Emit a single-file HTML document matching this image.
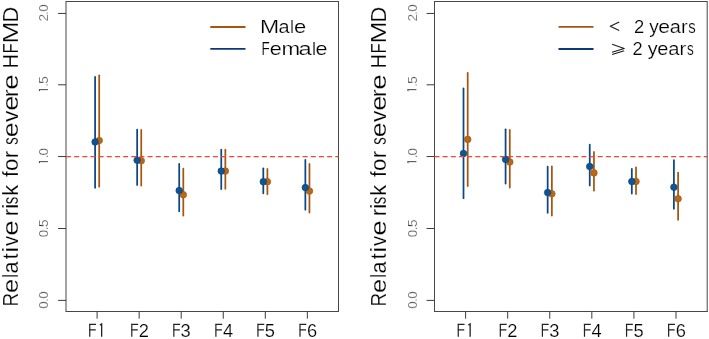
<!DOCTYPE html>
<html><head><meta charset="utf-8"><style>
html,body{margin:0;padding:0;background:#fff;}
svg{display:block;will-change:transform;}
text{font-family:"Liberation Sans",sans-serif;fill:#000;stroke:#fff;stroke-width:0.2px;}
.yl{font-size:13.6px;stroke-width:0.35px;fill:#222;}
.xl{font-size:18.3px;}
.lg{font-size:18.2px;}
.yt{font-size:22.5px;}
</style></head><body>
<svg width="709" height="339" viewBox="0 0 709 339">
<rect width="709" height="339" fill="#fff"/>
<path d="M66.0,1.5 H338.5 M338.5,1.0 V312.0 M339.0,311.5 H66.0 M66.0,312.0 V1.0" fill="none" stroke="#474747" stroke-width="1"/>
<line x1="58.1" y1="300.40" x2="66.0" y2="300.40" stroke="#3a3a3a" stroke-width="1"/>
<text transform="translate(48.20,305.05) rotate(-90)" text-anchor="middle" class="yl">0</text>
<text transform="translate(48.20,300.00) rotate(-90)" text-anchor="middle" class="yl">.</text>
<text transform="translate(48.20,295.05) rotate(-90)" text-anchor="middle" class="yl">0</text>
<line x1="58.1" y1="228.50" x2="66.0" y2="228.50" stroke="#3a3a3a" stroke-width="1"/>
<text transform="translate(48.20,233.35) rotate(-90)" text-anchor="middle" class="yl">0</text>
<text transform="translate(48.20,228.30) rotate(-90)" text-anchor="middle" class="yl">.</text>
<text transform="translate(48.20,223.20) rotate(-90)" text-anchor="middle" class="yl">5</text>
<line x1="58.1" y1="156.55" x2="66.0" y2="156.55" stroke="#3a3a3a" stroke-width="1"/>
<path d="M47.90,161.65 H39.10 L39.70,163.15" fill="none" stroke="#3a3a3a" stroke-width="0.95" stroke-linejoin="round"/>
<text transform="translate(48.20,156.45) rotate(-90)" text-anchor="middle" class="yl">.</text>
<text transform="translate(48.20,151.65) rotate(-90)" text-anchor="middle" class="yl">0</text>
<line x1="58.1" y1="84.80" x2="66.0" y2="84.80" stroke="#3a3a3a" stroke-width="1"/>
<path d="M47.90,89.65 H39.10 L39.70,91.15" fill="none" stroke="#3a3a3a" stroke-width="0.95" stroke-linejoin="round"/>
<text transform="translate(48.20,84.75) rotate(-90)" text-anchor="middle" class="yl">.</text>
<text transform="translate(48.20,80.05) rotate(-90)" text-anchor="middle" class="yl">5</text>
<line x1="58.1" y1="13.45" x2="66.0" y2="13.45" stroke="#3a3a3a" stroke-width="1"/>
<text transform="translate(48.20,17.60) rotate(-90)" text-anchor="middle" class="yl">2</text>
<text transform="translate(48.20,13.00) rotate(-90)" text-anchor="middle" class="yl">.</text>
<text transform="translate(48.20,8.05) rotate(-90)" text-anchor="middle" class="yl">0</text>
<line x1="97.10" y1="311.5" x2="97.10" y2="318.7" stroke="#3a3a3a" stroke-width="1"/>
<path d="M89.75,336.8 V324.3 M89.05,324.3 H96.05 M89.05,329.85 H95.75" fill="none" stroke="#222" stroke-width="1.2"/>
<path d="M101.65,336.8 V324.0 L99.90,325.1" fill="none" stroke="#222" stroke-width="1.3" stroke-linejoin="miter"/>
<line x1="139.15" y1="311.5" x2="139.15" y2="318.7" stroke="#3a3a3a" stroke-width="1"/>
<path d="M131.80,336.8 V324.3 M131.10,324.3 H138.10 M131.10,329.85 H137.80" fill="none" stroke="#222" stroke-width="1.2"/>
<text x="143.85" y="336.8" text-anchor="middle" class="xl">2</text>
<line x1="181.20" y1="311.5" x2="181.20" y2="318.7" stroke="#3a3a3a" stroke-width="1"/>
<path d="M173.85,336.8 V324.3 M173.15,324.3 H180.15 M173.15,329.85 H179.85" fill="none" stroke="#222" stroke-width="1.2"/>
<text x="185.70" y="336.8" text-anchor="middle" class="xl">3</text>
<line x1="223.25" y1="311.5" x2="223.25" y2="318.7" stroke="#3a3a3a" stroke-width="1"/>
<path d="M215.90,336.8 V324.3 M215.20,324.3 H222.20 M215.20,329.85 H221.90" fill="none" stroke="#222" stroke-width="1.2"/>
<text x="228.00" y="336.8" text-anchor="middle" class="xl">4</text>
<line x1="265.30" y1="311.5" x2="265.30" y2="318.7" stroke="#3a3a3a" stroke-width="1"/>
<path d="M257.95,336.8 V324.3 M257.25,324.3 H264.25 M257.25,329.85 H263.95" fill="none" stroke="#222" stroke-width="1.2"/>
<text x="269.85" y="336.8" text-anchor="middle" class="xl">5</text>
<line x1="307.35" y1="311.5" x2="307.35" y2="318.7" stroke="#3a3a3a" stroke-width="1"/>
<path d="M300.00,336.8 V324.3 M299.30,324.3 H306.30 M299.30,329.85 H306.00" fill="none" stroke="#222" stroke-width="1.2"/>
<text x="312.10" y="336.8" text-anchor="middle" class="xl">6</text>
<line x1="99.20" y1="75.25" x2="99.20" y2="186.65" stroke="#a6560f" stroke-width="1.75" stroke-linecap="round"/>
<line x1="95.10" y1="76.75" x2="95.10" y2="187.75" stroke="#0c4683" stroke-width="1.75" stroke-linecap="round"/>
<line x1="141.25" y1="129.95" x2="141.25" y2="185.55" stroke="#a6560f" stroke-width="1.75" stroke-linecap="round"/>
<line x1="137.15" y1="129.70" x2="137.15" y2="184.90" stroke="#0c4683" stroke-width="1.75" stroke-linecap="round"/>
<line x1="183.30" y1="168.65" x2="183.30" y2="215.55" stroke="#a6560f" stroke-width="1.75" stroke-linecap="round"/>
<line x1="179.20" y1="163.95" x2="179.20" y2="211.35" stroke="#0c4683" stroke-width="1.75" stroke-linecap="round"/>
<line x1="225.35" y1="149.70" x2="225.35" y2="188.75" stroke="#a6560f" stroke-width="1.75" stroke-linecap="round"/>
<line x1="221.25" y1="149.70" x2="221.25" y2="189.05" stroke="#0c4683" stroke-width="1.75" stroke-linecap="round"/>
<line x1="267.40" y1="168.95" x2="267.40" y2="194.15" stroke="#a6560f" stroke-width="1.75" stroke-linecap="round"/>
<line x1="263.30" y1="168.35" x2="263.30" y2="193.35" stroke="#0c4683" stroke-width="1.75" stroke-linecap="round"/>
<line x1="309.45" y1="163.95" x2="309.45" y2="212.55" stroke="#a6560f" stroke-width="1.75" stroke-linecap="round"/>
<line x1="305.35" y1="159.95" x2="305.35" y2="209.65" stroke="#0c4683" stroke-width="1.75" stroke-linecap="round"/>
<circle cx="99.20" cy="140.5" r="3.3" fill="#bb6816" stroke="#a6560f" stroke-width="0.7"/>
<circle cx="95.10" cy="142.0" r="3.3" fill="#0e5592" stroke="#0c4683" stroke-width="0.7"/>
<circle cx="141.25" cy="160.7" r="3.3" fill="#bb6816" stroke="#a6560f" stroke-width="0.7"/>
<circle cx="137.15" cy="160.2" r="3.3" fill="#0e5592" stroke="#0c4683" stroke-width="0.7"/>
<circle cx="183.30" cy="194.7" r="3.3" fill="#bb6816" stroke="#a6560f" stroke-width="0.7"/>
<circle cx="179.20" cy="190.6" r="3.3" fill="#0e5592" stroke="#0c4683" stroke-width="0.7"/>
<circle cx="225.35" cy="171.1" r="3.3" fill="#bb6816" stroke="#a6560f" stroke-width="0.7"/>
<circle cx="221.25" cy="171.1" r="3.3" fill="#0e5592" stroke="#0c4683" stroke-width="0.7"/>
<circle cx="267.40" cy="181.7" r="3.3" fill="#bb6816" stroke="#a6560f" stroke-width="0.7"/>
<circle cx="263.30" cy="181.7" r="3.3" fill="#0e5592" stroke="#0c4683" stroke-width="0.7"/>
<circle cx="309.45" cy="191.1" r="3.3" fill="#bb6816" stroke="#a6560f" stroke-width="0.7"/>
<circle cx="305.35" cy="187.6" r="3.3" fill="#0e5592" stroke="#0c4683" stroke-width="0.7"/>
<line x1="66.0" y1="156.5" x2="338.5" y2="156.5" stroke="#fa4430" stroke-width="1.25" stroke-dasharray="5.0 3.16"/>
<text transform="translate(17.70,304.90) rotate(-90) scale(0.8458,1) translate(-1.846,0)" class="yt">R</text>
<text transform="translate(17.70,291.90) rotate(-90) scale(1.1271,1) translate(-0.956,0)" class="yt">e</text>
<text transform="translate(17.70,276.60) rotate(-90) scale(0.7080,1) translate(-1.516,0)" class="yt">l</text>
<text transform="translate(17.70,272.60) rotate(-90) scale(0.9691,1) translate(-0.956,0)" class="yt">a</text>
<text transform="translate(17.70,259.00) rotate(-90) scale(0.9224,1) translate(-0.341,0)" class="yt">t</text>
<text transform="translate(17.70,250.80) rotate(-90) scale(1.2136,1) translate(-1.505,0)" class="yt">i</text>
<text transform="translate(17.70,246.00) rotate(-90) scale(0.9012,1) translate(-0.077,0)" class="yt">v</text>
<text transform="translate(17.70,234.60) rotate(-90) scale(1.2313,1) translate(-0.956,0)" class="yt">e</text>
<text transform="translate(17.70,214.50) rotate(-90) scale(0.9422,1) translate(-1.494,0)" class="yt">r</text>
<text transform="translate(17.70,207.40) rotate(-90) scale(1.2136,1) translate(-1.505,0)" class="yt">i</text>
<text transform="translate(17.70,203.90) rotate(-90) scale(0.6625,1) translate(-0.626,0)" class="yt">s</text>
<text transform="translate(17.70,194.30) rotate(-90) scale(0.9727,1) translate(-1.516,0)" class="yt">k</text>
<text transform="translate(17.70,176.50) rotate(-90) scale(0.8884,1) translate(-0.319,0)" class="yt">f</text>
<text transform="translate(17.70,170.00) rotate(-90) scale(0.9883,1) translate(-0.945,0)" class="yt">o</text>
<text transform="translate(17.70,156.60) rotate(-90) scale(0.9422,1) translate(-1.494,0)" class="yt">r</text>
<text transform="translate(17.70,144.30) rotate(-90) scale(0.6625,1) translate(-0.626,0)" class="yt">s</text>
<text transform="translate(17.70,136.00) rotate(-90) scale(1.1934,1) translate(-0.956,0)" class="yt">e</text>
<text transform="translate(17.70,121.90) rotate(-90) scale(1.0184,1) translate(-0.077,0)" class="yt">v</text>
<text transform="translate(17.70,109.50) rotate(-90) scale(1.2124,1) translate(-0.956,0)" class="yt">e</text>
<text transform="translate(17.70,95.60) rotate(-90) scale(1.0667,1) translate(-1.494,0)" class="yt">r</text>
<text transform="translate(17.70,88.50) rotate(-90) scale(1.2313,1) translate(-0.956,0)" class="yt">e</text>
<text transform="translate(17.70,66.90) rotate(-90) scale(0.8832,1) translate(-1.846,0)" class="yt">H</text>
<text transform="translate(17.70,52.00) rotate(-90) scale(0.7456,1) translate(-1.846,0)" class="yt">F</text>
<text transform="translate(17.70,41.40) rotate(-90) scale(1.1760,1) translate(-1.846,0)" class="yt">M</text>
<text transform="translate(17.70,20.70) rotate(-90) scale(0.9680,1) translate(-1.846,0)" class="yt">D</text>
<path d="M434.5,1.5 H707.2 M707.2,1.0 V312.0 M707.7,311.5 H434.5 M434.5,312.0 V1.0" fill="none" stroke="#474747" stroke-width="1"/>
<line x1="426.6" y1="300.40" x2="434.5" y2="300.40" stroke="#3a3a3a" stroke-width="1"/>
<text transform="translate(416.70,305.05) rotate(-90)" text-anchor="middle" class="yl">0</text>
<text transform="translate(416.70,300.00) rotate(-90)" text-anchor="middle" class="yl">.</text>
<text transform="translate(416.70,295.05) rotate(-90)" text-anchor="middle" class="yl">0</text>
<line x1="426.6" y1="228.50" x2="434.5" y2="228.50" stroke="#3a3a3a" stroke-width="1"/>
<text transform="translate(416.70,233.35) rotate(-90)" text-anchor="middle" class="yl">0</text>
<text transform="translate(416.70,228.30) rotate(-90)" text-anchor="middle" class="yl">.</text>
<text transform="translate(416.70,223.20) rotate(-90)" text-anchor="middle" class="yl">5</text>
<line x1="426.6" y1="156.55" x2="434.5" y2="156.55" stroke="#3a3a3a" stroke-width="1"/>
<path d="M416.40,161.65 H407.60 L408.20,163.15" fill="none" stroke="#3a3a3a" stroke-width="0.95" stroke-linejoin="round"/>
<text transform="translate(416.70,156.45) rotate(-90)" text-anchor="middle" class="yl">.</text>
<text transform="translate(416.70,151.65) rotate(-90)" text-anchor="middle" class="yl">0</text>
<line x1="426.6" y1="84.80" x2="434.5" y2="84.80" stroke="#3a3a3a" stroke-width="1"/>
<path d="M416.40,89.65 H407.60 L408.20,91.15" fill="none" stroke="#3a3a3a" stroke-width="0.95" stroke-linejoin="round"/>
<text transform="translate(416.70,84.75) rotate(-90)" text-anchor="middle" class="yl">.</text>
<text transform="translate(416.70,80.05) rotate(-90)" text-anchor="middle" class="yl">5</text>
<line x1="426.6" y1="13.45" x2="434.5" y2="13.45" stroke="#3a3a3a" stroke-width="1"/>
<text transform="translate(416.70,17.60) rotate(-90)" text-anchor="middle" class="yl">2</text>
<text transform="translate(416.70,13.00) rotate(-90)" text-anchor="middle" class="yl">.</text>
<text transform="translate(416.70,8.05) rotate(-90)" text-anchor="middle" class="yl">0</text>
<line x1="465.60" y1="311.5" x2="465.60" y2="318.7" stroke="#3a3a3a" stroke-width="1"/>
<path d="M458.25,336.8 V324.3 M457.55,324.3 H464.55 M457.55,329.85 H464.25" fill="none" stroke="#222" stroke-width="1.2"/>
<path d="M470.15,336.8 V324.0 L468.40,325.1" fill="none" stroke="#222" stroke-width="1.3" stroke-linejoin="miter"/>
<line x1="507.68" y1="311.5" x2="507.68" y2="318.7" stroke="#3a3a3a" stroke-width="1"/>
<path d="M500.33,336.8 V324.3 M499.63,324.3 H506.63 M499.63,329.85 H506.33" fill="none" stroke="#222" stroke-width="1.2"/>
<text x="512.38" y="336.8" text-anchor="middle" class="xl">2</text>
<line x1="549.76" y1="311.5" x2="549.76" y2="318.7" stroke="#3a3a3a" stroke-width="1"/>
<path d="M542.41,336.8 V324.3 M541.71,324.3 H548.71 M541.71,329.85 H548.41" fill="none" stroke="#222" stroke-width="1.2"/>
<text x="554.26" y="336.8" text-anchor="middle" class="xl">3</text>
<line x1="591.84" y1="311.5" x2="591.84" y2="318.7" stroke="#3a3a3a" stroke-width="1"/>
<path d="M584.49,336.8 V324.3 M583.79,324.3 H590.79 M583.79,329.85 H590.49" fill="none" stroke="#222" stroke-width="1.2"/>
<text x="596.59" y="336.8" text-anchor="middle" class="xl">4</text>
<line x1="633.92" y1="311.5" x2="633.92" y2="318.7" stroke="#3a3a3a" stroke-width="1"/>
<path d="M626.57,336.8 V324.3 M625.87,324.3 H632.87 M625.87,329.85 H632.57" fill="none" stroke="#222" stroke-width="1.2"/>
<text x="638.47" y="336.8" text-anchor="middle" class="xl">5</text>
<line x1="676.00" y1="311.5" x2="676.00" y2="318.7" stroke="#3a3a3a" stroke-width="1"/>
<path d="M668.65,336.8 V324.3 M667.95,324.3 H674.95 M667.95,329.85 H674.65" fill="none" stroke="#222" stroke-width="1.2"/>
<text x="680.75" y="336.8" text-anchor="middle" class="xl">6</text>
<line x1="467.70" y1="72.80" x2="467.70" y2="186.05" stroke="#a6560f" stroke-width="1.75" stroke-linecap="round"/>
<line x1="463.50" y1="88.45" x2="463.50" y2="198.15" stroke="#0c4683" stroke-width="1.75" stroke-linecap="round"/>
<line x1="509.78" y1="129.95" x2="509.78" y2="187.55" stroke="#a6560f" stroke-width="1.75" stroke-linecap="round"/>
<line x1="505.58" y1="129.25" x2="505.58" y2="183.55" stroke="#0c4683" stroke-width="1.75" stroke-linecap="round"/>
<line x1="551.86" y1="166.45" x2="551.86" y2="215.55" stroke="#a6560f" stroke-width="1.75" stroke-linecap="round"/>
<line x1="547.66" y1="166.65" x2="547.66" y2="212.85" stroke="#0c4683" stroke-width="1.75" stroke-linecap="round"/>
<line x1="593.94" y1="151.95" x2="593.94" y2="190.65" stroke="#a6560f" stroke-width="1.75" stroke-linecap="round"/>
<line x1="589.74" y1="144.70" x2="589.74" y2="185.45" stroke="#0c4683" stroke-width="1.75" stroke-linecap="round"/>
<line x1="636.02" y1="167.25" x2="636.02" y2="194.05" stroke="#a6560f" stroke-width="1.75" stroke-linecap="round"/>
<line x1="631.82" y1="168.95" x2="631.82" y2="193.55" stroke="#0c4683" stroke-width="1.75" stroke-linecap="round"/>
<line x1="678.10" y1="172.55" x2="678.10" y2="219.85" stroke="#a6560f" stroke-width="1.75" stroke-linecap="round"/>
<line x1="673.90" y1="160.15" x2="673.90" y2="208.75" stroke="#0c4683" stroke-width="1.75" stroke-linecap="round"/>
<circle cx="467.70" cy="139.4" r="3.3" fill="#bb6816" stroke="#a6560f" stroke-width="0.7"/>
<circle cx="463.50" cy="153.5" r="3.3" fill="#0e5592" stroke="#0c4683" stroke-width="0.7"/>
<circle cx="509.78" cy="162.0" r="3.3" fill="#bb6816" stroke="#a6560f" stroke-width="0.7"/>
<circle cx="505.58" cy="159.4" r="3.3" fill="#0e5592" stroke="#0c4683" stroke-width="0.7"/>
<circle cx="551.86" cy="193.8" r="3.3" fill="#bb6816" stroke="#a6560f" stroke-width="0.7"/>
<circle cx="547.66" cy="192.6" r="3.3" fill="#0e5592" stroke="#0c4683" stroke-width="0.7"/>
<circle cx="593.94" cy="172.9" r="3.3" fill="#bb6816" stroke="#a6560f" stroke-width="0.7"/>
<circle cx="589.74" cy="166.5" r="3.3" fill="#0e5592" stroke="#0c4683" stroke-width="0.7"/>
<circle cx="636.02" cy="181.5" r="3.3" fill="#bb6816" stroke="#a6560f" stroke-width="0.7"/>
<circle cx="631.82" cy="181.5" r="3.3" fill="#0e5592" stroke="#0c4683" stroke-width="0.7"/>
<circle cx="678.10" cy="198.7" r="3.3" fill="#bb6816" stroke="#a6560f" stroke-width="0.7"/>
<circle cx="673.90" cy="187.2" r="3.3" fill="#0e5592" stroke="#0c4683" stroke-width="0.7"/>
<line x1="434.5" y1="156.5" x2="707.2" y2="156.5" stroke="#fa4430" stroke-width="1.25" stroke-dasharray="5.0 3.16"/>
<text transform="translate(386.20,304.90) rotate(-90) scale(0.8458,1) translate(-1.846,0)" class="yt">R</text>
<text transform="translate(386.20,291.90) rotate(-90) scale(1.1271,1) translate(-0.956,0)" class="yt">e</text>
<text transform="translate(386.20,276.60) rotate(-90) scale(0.7080,1) translate(-1.516,0)" class="yt">l</text>
<text transform="translate(386.20,272.60) rotate(-90) scale(0.9691,1) translate(-0.956,0)" class="yt">a</text>
<text transform="translate(386.20,259.00) rotate(-90) scale(0.9224,1) translate(-0.341,0)" class="yt">t</text>
<text transform="translate(386.20,250.80) rotate(-90) scale(1.2136,1) translate(-1.505,0)" class="yt">i</text>
<text transform="translate(386.20,246.00) rotate(-90) scale(0.9012,1) translate(-0.077,0)" class="yt">v</text>
<text transform="translate(386.20,234.60) rotate(-90) scale(1.2313,1) translate(-0.956,0)" class="yt">e</text>
<text transform="translate(386.20,214.50) rotate(-90) scale(0.9422,1) translate(-1.494,0)" class="yt">r</text>
<text transform="translate(386.20,207.40) rotate(-90) scale(1.2136,1) translate(-1.505,0)" class="yt">i</text>
<text transform="translate(386.20,203.90) rotate(-90) scale(0.6625,1) translate(-0.626,0)" class="yt">s</text>
<text transform="translate(386.20,194.30) rotate(-90) scale(0.9727,1) translate(-1.516,0)" class="yt">k</text>
<text transform="translate(386.20,176.50) rotate(-90) scale(0.8884,1) translate(-0.319,0)" class="yt">f</text>
<text transform="translate(386.20,170.00) rotate(-90) scale(0.9883,1) translate(-0.945,0)" class="yt">o</text>
<text transform="translate(386.20,156.60) rotate(-90) scale(0.9422,1) translate(-1.494,0)" class="yt">r</text>
<text transform="translate(386.20,144.30) rotate(-90) scale(0.6625,1) translate(-0.626,0)" class="yt">s</text>
<text transform="translate(386.20,136.00) rotate(-90) scale(1.1934,1) translate(-0.956,0)" class="yt">e</text>
<text transform="translate(386.20,121.90) rotate(-90) scale(1.0184,1) translate(-0.077,0)" class="yt">v</text>
<text transform="translate(386.20,109.50) rotate(-90) scale(1.2124,1) translate(-0.956,0)" class="yt">e</text>
<text transform="translate(386.20,95.60) rotate(-90) scale(1.0667,1) translate(-1.494,0)" class="yt">r</text>
<text transform="translate(386.20,88.50) rotate(-90) scale(1.2313,1) translate(-0.956,0)" class="yt">e</text>
<text transform="translate(386.20,66.90) rotate(-90) scale(0.8832,1) translate(-1.846,0)" class="yt">H</text>
<text transform="translate(386.20,52.00) rotate(-90) scale(0.7456,1) translate(-1.846,0)" class="yt">F</text>
<text transform="translate(386.20,41.40) rotate(-90) scale(1.1760,1) translate(-1.846,0)" class="yt">M</text>
<text transform="translate(386.20,20.70) rotate(-90) scale(0.9680,1) translate(-1.846,0)" class="yt">D</text>

<line x1="210.3" y1="27.0" x2="245.5" y2="27.0" stroke="#a6560f" stroke-width="1.8"/>
<line x1="210.3" y1="48.9" x2="245.5" y2="48.9" stroke="#0a3a76" stroke-width="1.8"/>
<text transform="translate(262.00,32.50) scale(1.2649,1) translate(-1.493,0)" class="lg">M</text>
<text transform="translate(279.30,32.50) scale(1.0910,1) translate(-0.773,0)" class="lg">a</text>
<text transform="translate(291.40,32.50) scale(0.8752,1) translate(-1.226,0)" class="lg">l</text>
<text transform="translate(295.00,32.50) scale(1.2061,1) translate(-0.773,0)" class="lg">e</text>
<text transform="translate(262.60,54.75) scale(0.7419,1) translate(-1.493,0)" class="lg">F</text>
<text transform="translate(270.70,54.75) scale(1.1827,1) translate(-0.773,0)" class="lg">e</text>
<text transform="translate(282.90,54.75) scale(1.2311,1) translate(-1.209,0)" class="lg">m</text>
<text transform="translate(299.60,54.75) scale(1.3050,1) translate(-0.773,0)" class="lg">a</text>
<text transform="translate(313.30,54.75) scale(1.0002,1) translate(-1.226,0)" class="lg">l</text>
<text transform="translate(316.40,54.75) scale(1.1827,1) translate(-0.773,0)" class="lg">e</text>


<line x1="558.5" y1="26.9" x2="593.5" y2="26.9" stroke="#a6560f" stroke-width="1.8"/>
<line x1="558.5" y1="49.0" x2="593.5" y2="49.0" stroke="#0a3a76" stroke-width="1.8"/>
<path d="M619.2,22.1 L610.3,26.3 L619.2,30.4" fill="none" stroke="#1a1a1a" stroke-width="1.1" stroke-linejoin="round"/>
<text transform="translate(634.90,32.80) scale(1.0131,1) translate(-0.915,0)" class="lg">2</text>
<text transform="translate(649.20,32.80) scale(1.0421,1) translate(-0.044,0)" class="lg">y</text>
<text transform="translate(659.10,32.80) scale(1.1592,1) translate(-0.773,0)" class="lg">e</text>
<text transform="translate(670.50,32.80) scale(1.1017,1) translate(-0.773,0)" class="lg">a</text>
<text transform="translate(682.30,32.80) scale(1.0989,1) translate(-1.209,0)" class="lg">r</text>
<text transform="translate(688.70,32.80) scale(0.8191,1) translate(-0.507,0)" class="lg">s</text>
<path d="M612.1,44.2 L624.2,48.5 L612.1,52.2 M612.1,54.6 L624.2,50.7" fill="none" stroke="#1a1a1a" stroke-width="1.1" stroke-linejoin="round"/>
<text transform="translate(633.50,54.80) scale(1.0010,1) translate(-0.915,0)" class="lg">2</text>
<text transform="translate(647.80,54.80) scale(1.0865,1) translate(-0.044,0)" class="lg">y</text>
<text transform="translate(658.10,54.80) scale(1.1007,1) translate(-0.773,0)" class="lg">e</text>
<text transform="translate(669.00,54.80) scale(1.1124,1) translate(-0.773,0)" class="lg">a</text>
<text transform="translate(680.80,54.80) scale(1.0989,1) translate(-1.209,0)" class="lg">r</text>
<text transform="translate(687.30,54.80) scale(0.7435,1) translate(-0.507,0)" class="lg">s</text>

</svg>
</body></html>
